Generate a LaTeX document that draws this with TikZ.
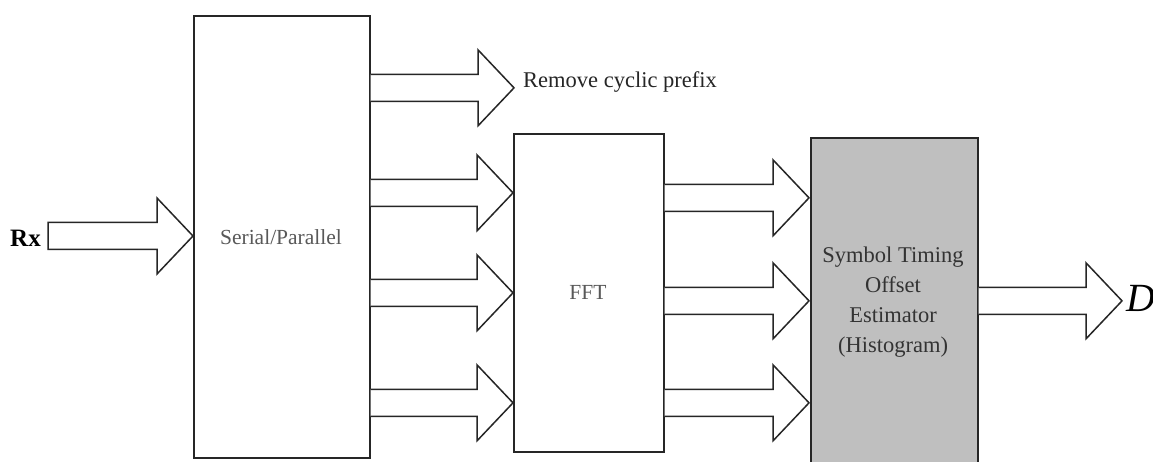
\documentclass[tikz,border=0pt]{standalone}
\usepackage{fontspec}
\setmainfont{Liberation Serif}
\usetikzlibrary{calc}
\tikzset{
  blk/.style={draw=black!85, line width=1.7pt, anchor=north west, inner sep=0pt},
  arrowline/.style={draw=black!85, line width=1.5pt, fill=white, line join=miter},
  lbl/.style={inner sep=0pt}
}
% block arrow from #1 (start, shaft open or closed) to #2 (tip), same y
\newcommand\openarrow[2]{%
  \draw[arrowline] let \p1=#1, \p2=#2 in
    (\x1,{\y1+13.5pt}) -- ({\x2-36pt},{\y1+13.5pt}) -- ({\x2-36pt},{\y1+38pt}) --
    (\x2,\y1) -- ({\x2-36pt},{\y1-38pt}) -- ({\x2-36pt},{\y1-13.5pt}) -- (\x1,{\y1-13.5pt});}
\newcommand\closedarrow[2]{%
  \draw[arrowline] let \p1=#1, \p2=#2 in
    (\x1,{\y1+13.5pt}) -- ({\x2-36pt},{\y1+13.5pt}) -- ({\x2-36pt},{\y1+38pt}) --
    (\x2,\y1) -- ({\x2-36pt},{\y1-38pt}) -- ({\x2-36pt},{\y1-13.5pt}) -- (\x1,{\y1-13.5pt}) -- cycle;}
\begin{document}
\begin{tikzpicture}[x=1pt,y=-1pt]
\clip (0,0) rectangle (1153,462);
\useasboundingbox (0,0) rectangle (1153,462);
\fill[white] (0,0) rectangle (1153,462);

% boxes
\node[blk, minimum width=176pt, minimum height=442pt] (sp) at (193,15) {};
\node[blk, minimum width=150pt, minimum height=318pt] (fft) at (513,133) {};
\node[blk, fill=black!25, minimum width=167pt, minimum height=340pt] (est) at (810,137) {};

% texts
\node[lbl, text=black!65, font=\fontsize{21.5}{25}\selectfont] (sptext) at (281,237) {Serial/Parallel};
\node[lbl, text=black!65, font=\fontsize{21.5}{25}\selectfont] (ffttext) at (588,292) {FFT};
\node[lbl, text=black!80, align=center, font=\fontsize{22.5}{30}\selectfont] (esttext) at (893,302)
  {Symbol Timing\\Offset\\Estimator\\(Histogram)};
\node[lbl, anchor=base west, text=black!85, font=\fontsize{22.5}{27}\selectfont] (rcp) at (523,88) {Remove cyclic prefix};
\node[lbl, anchor=east, font=\bfseries\fontsize{25}{30}\selectfont] (rx) at (41,238) {Rx};
\node[lbl, anchor=base west, font=\itshape\fontsize{40}{44}\selectfont] (d) at (1126,311) {D};

% coordinates
\coordinate (rxs) at (48,236);
\coordinate (rcpt) at (514,87);
\coordinate (dt) at (1122,300);

% arrows
\closedarrow{(rxs)}{(rxs -| sp.west)}
\openarrow{($(sp.east)+(0,-149)$)}{(rcpt)}
\openarrow{($(sp.east)+(0,-44)$)}{($(fft.west)+(0,-100)$)}
\openarrow{($(sp.east)+(0,56)$)}{($(fft.west)+(0,0)$)}
\openarrow{($(sp.east)+(0,166)$)}{($(fft.west)+(0,110)$)}
\openarrow{($(fft.east)+(0,-95)$)}{($(est.west)+(-1,-110)$)}
\openarrow{($(fft.east)+(0,8)$)}{($(est.west)+(-1,-7)$)}
\openarrow{($(fft.east)+(0,110)$)}{($(est.west)+(-1,95)$)}
\openarrow{($(est.east)+(0,-7)$)}{(dt)}
\end{tikzpicture}
\end{document}
